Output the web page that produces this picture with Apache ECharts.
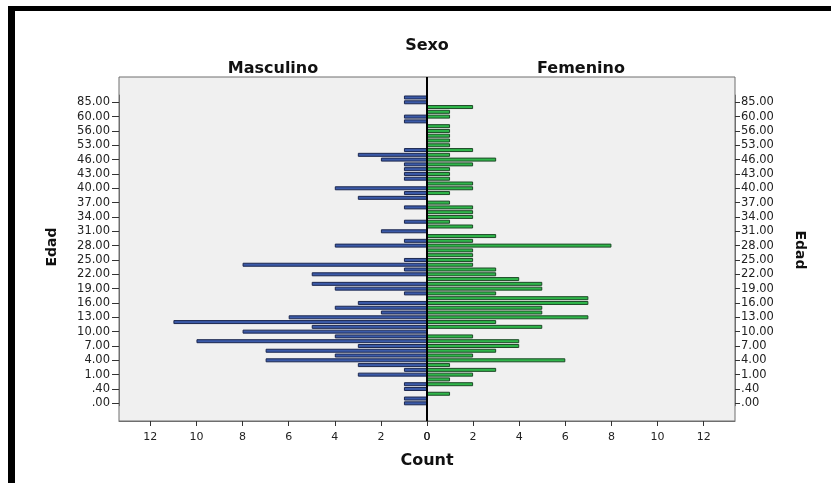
<!DOCTYPE html>
<html><head><meta charset="utf-8">
<script src="https://cdn.jsdelivr.net/npm/echarts@6/dist/echarts.min.js"></script>
<style>html,body{margin:0;padding:0;background:#fff}#c{width:831px;height:483px}</style>
</head><body><div id="c"></div>
<script>
// Age categories, bottom row first (only every third one is labelled on the axis)
const ageLabels = ['.00','.10','.20','.40','.50','.70','1.00','2.00','3.00','4.00','5.00','6.00','7.00','8.00','9.00','10.00',
  '11.00','12.00','13.00','14.00','15.00','16.00','17.00','18.00','19.00','20.00','21.00','22.00','23.00','24.00','25.00',
  '26.00','27.00','28.00','29.00','30.00','31.00','32.00','33.00','34.00','35.00','36.00','37.00','38.00','39.00','40.00',
  '41.00','42.00','43.00','44.00','45.00','46.00','48.00','50.00','53.00','54.00','55.00','56.00','57.00','58.00','60.00',
  '62.00','65.00','85.00','88.00'];
const maleCounts = [1,1,0,1,1,0,3,1,3,7,4,7,3,10,4,8,5,11,6,2,4,3,0,1,4,5,0,5,1,8,1,0,0,4,1,0,2,0,1,0,0,1,0,3,1,4,0,1,1,1,1,2,3,1,0,0,0,0,0,1,1,0,0,1,1];
const femaleCounts = [0,0,1,0,2,1,2,3,1,6,2,3,4,4,2,0,5,3,7,5,5,7,7,3,5,5,4,3,3,2,2,2,2,8,2,3,0,2,1,2,2,2,1,0,1,2,2,1,1,1,2,3,1,2,1,1,1,1,1,0,1,1,2,0,0];
const countTicks = [0,2,4,6,8,10,12];
const groupNames = ['Masculino','Femenino'];

const chart = echarts.init(document.getElementById('c'));
const FONT = 'DejaVu Sans';
const PL = 119, PR = 735, PT = 77, PB = 421, CX = 427;
const GT = 95.1, GH = 310.6;
const XMAX = 13.36;
const FRAME = '#6e6e6e';

function xAx(idx, inverse) {
  return {
    gridIndex: idx, type: 'value', min: 0, max: XMAX, inverse: inverse,
    offset: PB - (GT + GH),
    axisLine: {show: true, onZero: false, lineStyle: {color: FRAME, width: 1}},
    splitLine: {show: false},
    axisTick: {show: true, length: 5, customValues: countTicks, lineStyle: {color: '#333', width: 1}},
    axisLabel: {customValues: countTicks, fontFamily: FONT, fontSize: 11, color: '#222', margin: 11}
  };
}
function yAx(idx, pos) {
  return {
    gridIndex: idx, type: 'category', data: ageLabels, position: pos,
    axisLine: {show: true, onZero: false, lineStyle: {color: FRAME, width: 1}},
    axisTick: {show: true, alignWithLabel: true, interval: 2, length: pos === 'left' ? 7 : 5,
      lineStyle: {color: '#333', width: 1}},
    axisLabel: {interval: 2, fontFamily: FONT, fontSize: 11.5, color: '#222', margin: pos === 'left' ? 9 : 6}
  };
}
const noZero = v => (v === 0 ? null : v);

chart.setOption({
  animation: false,
  backgroundColor: '#ffffff',
  grid: [
    {left: PL, top: GT, width: CX - PL, height: GH},
    {left: CX, top: GT, width: PR - CX, height: GH}
  ],
  xAxis: [xAx(0, true), xAx(1, false)],
  yAxis: [yAx(0, 'left'), yAx(1, 'right')],
  series: [
    {name: groupNames[0], type: 'bar', xAxisIndex: 0, yAxisIndex: 0, data: maleCounts.map(noZero), barWidth: 4,
      itemStyle: {color: '#3b5aa8', borderColor: '#1c2850', borderWidth: 1}},
    {name: groupNames[1], type: 'bar', xAxisIndex: 1, yAxisIndex: 1, data: femaleCounts.map(noZero), barWidth: 4,
      itemStyle: {color: '#2fb64a', borderColor: '#1d4a27', borderWidth: 1}}
  ],
  graphic: [
    {type: 'rect', z: -10, shape: {x: PL, y: PT, width: PR - PL, height: PB - PT},
      style: {fill: '#f0f0f0', stroke: FRAME, lineWidth: 1}},
    {type: 'line', z: 100, shape: {x1: CX, y1: PT, x2: CX, y2: PB}, style: {stroke: '#000', lineWidth: 2}},
    {type: 'rect', z: 100, shape: {x: 8, y: 6, width: 7, height: 477}, style: {fill: '#000'}},
    {type: 'rect', z: 100, shape: {x: 8, y: 6, width: 823, height: 5}, style: {fill: '#000'}},
    {type: 'text', z: 100, x: 427, y: 46, style: {text: 'Sexo', font: 'bold 16px "' + FONT + '"', fill: '#111', textAlign: 'center', textVerticalAlign: 'middle'}},
    {type: 'text', z: 100, x: 273, y: 69, style: {text: groupNames[0], font: 'bold 16px "' + FONT + '"', fill: '#111', textAlign: 'center', textVerticalAlign: 'middle'}},
    {type: 'text', z: 100, x: 581, y: 69, style: {text: groupNames[1], font: 'bold 16px "' + FONT + '"', fill: '#111', textAlign: 'center', textVerticalAlign: 'middle'}},
    {type: 'text', z: 100, x: 427, y: 461, style: {text: 'Count', font: 'bold 16px "' + FONT + '"', fill: '#111', textAlign: 'center', textVerticalAlign: 'middle'}},
    {type: 'text', z: 100, x: 52, y: 247, rotation: Math.PI / 2, style: {text: 'Edad', font: 'bold 14px "' + FONT + '"', fill: '#111', textAlign: 'center', textVerticalAlign: 'middle'}},
    {type: 'text', z: 100, x: 800, y: 250, rotation: -Math.PI / 2, style: {text: 'Edad', font: 'bold 14px "' + FONT + '"', fill: '#111', textAlign: 'center', textVerticalAlign: 'middle'}}
  ]
});
</script></body></html>
